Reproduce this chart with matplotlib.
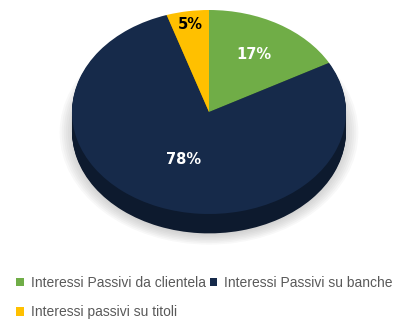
import numpy as np
import matplotlib.pyplot as plt
from matplotlib.patches import Ellipse

# Data
labels = ['Interessi Passivi da clientela', 'Interessi Passivi su banche', 'Interessi passivi su titoli']
values = [17, 78, 5]
colors = ['#70ad47', '#162a4a', '#ffc000']
side_colors = ['#4f7a32', '#0d1a2e', '#b38600']
label_colors = ['white', 'white', 'black']
label_dist = [0.65, 0.5, 0.87]

fig = plt.figure(figsize=(4.11, 3.24), dpi=100)
# pie centre at pixel (209, 112), rx = 137 px, ry = 102 px
ax = fig.add_axes([40 / 411, 1 - 250 / 324, 338 / 411, 250 / 324])

# soft shadow under the pie
for k in range(8):
    e = Ellipse((0.0, -0.2), 2.18 - k * 0.03, 2.2 - k * 0.03,
                color='#8a8a8a', alpha=0.06, lw=0, zorder=0)
    ax.add_patch(e)

# side of the "3d" pie
for d in np.linspace(0.19, 0.01, 20):
    ax.pie(values, colors=side_colors, startangle=90, counterclock=False,
           center=(0, -d), radius=1, wedgeprops=dict(linewidth=0))

# top face
wedges, texts, autotexts = ax.pie(values, colors=colors, startangle=90, counterclock=False,
                                  radius=1, autopct='%d%%', pctdistance=0.6,
                                  wedgeprops=dict(linewidth=0))

for w, t, c, dist in zip(wedges, autotexts, label_colors, label_dist):
    ang = np.deg2rad((w.theta1 + w.theta2) / 2)
    t.set_position((dist * np.cos(ang), dist * np.sin(ang)))
    t.set_color(c)
    t.set_fontsize(10.5)
    t.set_fontweight('bold')

ax.set_aspect('auto')
ax.set_xlim(-169 / 137, 169 / 137)
ax.set_ylim(-138 / 102, 112 / 102)
ax.axis('off')

# legend ordered so that rows read green, navy / yellow
order = [0, 2, 1]
fig.legend([wedges[i] for i in order], [labels[i] for i in order],
           loc='upper left', bbox_to_anchor=(16 / 411, 1 - 276 / 324), ncol=2, frameon=False,
           prop={'family': 'Liberation Sans', 'size': 10}, labelcolor='#595959',
           handlelength=0.55, handleheight=0.55, handletextpad=0.5,
           columnspacing=0.3, labelspacing=1.1, borderaxespad=0, borderpad=0)

fig.savefig('out.png', dpi=100)
